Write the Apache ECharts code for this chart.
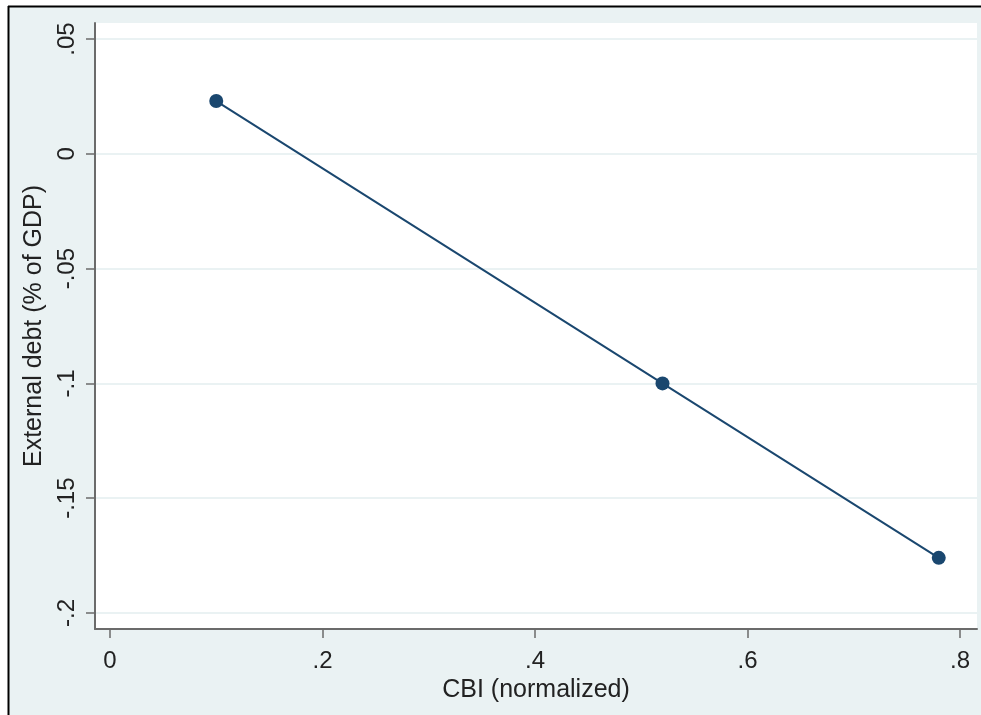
<!DOCTYPE html>
<html>
<head>
<meta charset="utf-8">
<script src="https://cdn.jsdelivr.net/npm/echarts@6/dist/echarts.min.js"></script>
<style>
html,body{margin:0;padding:0;background:#fff;}
#chart{width:981px;height:715px;}
</style>
</head>
<body>
<div id="chart"></div>
<script>
var cbi = [0.10, 0.52, 0.78];
var externalDebt = [0.023, -0.100, -0.176];
var xTicks = [0, 0.2, 0.4, 0.6, 0.8];
var xTickLabels = ['0', '.2', '.4', '.6', '.8'];
var yTicks = [-0.2, -0.15, -0.1, -0.05, 0, 0.05];
var yTickLabels = ['-.2', '-.15', '-.1', '-.05', '0', '.05'];
var xTitle = 'CBI (normalized)';
var yTitle = 'External debt (% of GDP)';

function fmt(ticks, labels) {
  return function (v) {
    for (var i = 0; i < ticks.length; i++) {
      if (Math.abs(ticks[i] - v) < 1e-6) return labels[i];
    }
    return '';
  };
}

var chart = echarts.init(document.getElementById('chart'), null, {renderer: 'canvas'});
var font = 'Liberation Sans, Arial, sans-serif';
var option = {
  backgroundColor: '#EAF2F3',
  animation: false,
  graphic: [
    {type: 'rect', shape: {x: 0, y: 0, width: 981, height: 6}, style: {fill: '#fff'}, z: -1},
    {type: 'rect', shape: {x: 0, y: 0, width: 8, height: 715}, style: {fill: '#fff'}, z: -1},
    {type: 'line', shape: {x1: 8, y1: 6.5, x2: 981, y2: 6.5}, style: {stroke: '#000', lineWidth: 2}},
    {type: 'line', shape: {x1: 8.5, y1: 6, x2: 8.5, y2: 715}, style: {stroke: '#000', lineWidth: 2}}
  ],
  grid: {
    left: 95, top: 23, right: 4, bottom: 86,
    show: true, backgroundColor: '#fff', borderWidth: 0
  },
  xAxis: {
    type: 'value',
    min: -0.0141, max: 0.816,
    name: xTitle,
    nameLocation: 'middle',
    nameGap: 42,
    nameTextStyle: {fontFamily: font, fontSize: 25, color: '#222'},
    axisLine: {show: true, onZero: false, lineStyle: {color: '#6b6b6b', width: 2}},
    axisTick: {show: true, length: 9, customValues: xTicks, lineStyle: {color: '#6b6b6b', width: 1.5}},
    axisLabel: {customValues: xTicks, formatter: fmt(xTicks, xTickLabels), margin: 20,
      fontFamily: font, fontSize: 24, color: '#222'},
    splitLine: {show: false}
  },
  yAxis: {
    type: 'value',
    min: -0.207, max: 0.057,
    name: yTitle,
    nameLocation: 'middle',
    nameGap: 44,
    nameTextStyle: {fontFamily: font, fontSize: 25, color: '#222'},
    axisLine: {show: true, onZero: false, lineStyle: {color: '#6b6b6b', width: 2}},
    axisTick: {show: true, length: 9, customValues: yTicks, lineStyle: {color: '#6b6b6b', width: 1.5}},
    axisLabel: {customValues: yTicks, formatter: fmt(yTicks, yTickLabels), rotate: 90, margin: 16,
      fontFamily: font, fontSize: 24, color: '#222'},
    splitLine: {show: true, lineStyle: {color: '#EAF2F3', width: 2}}
  },
  series: [{
    type: 'line',
    data: cbi.map(function (x, i) { return [x, externalDebt[i]]; }),
    symbol: 'circle',
    symbolSize: 14,
    itemStyle: {color: '#1A476F'},
    lineStyle: {color: '#1A476F', width: 2}
  }]
};
chart.setOption(option);
</script>
</body>
</html>
